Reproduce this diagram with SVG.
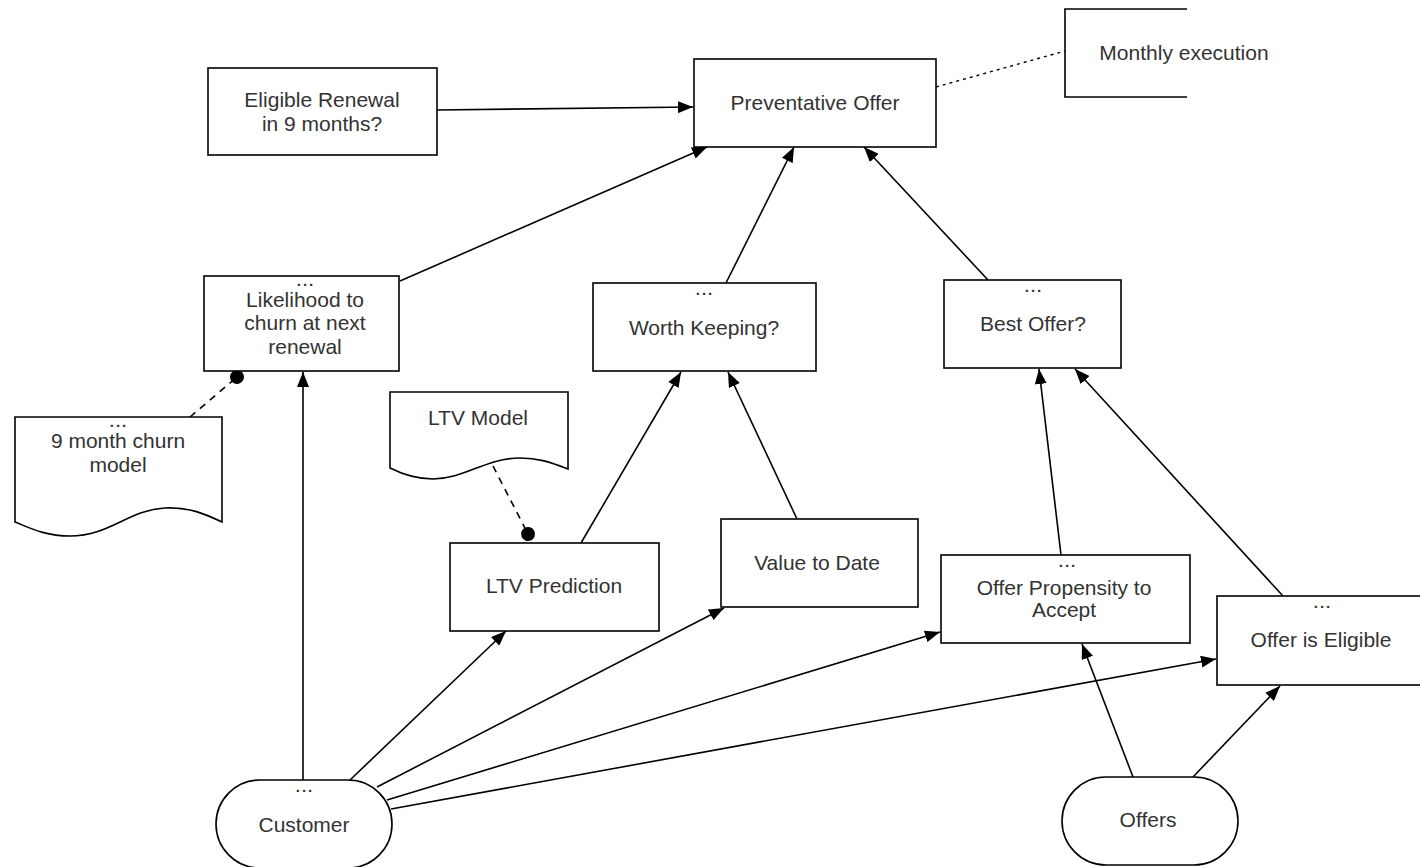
<svg xmlns="http://www.w3.org/2000/svg" width="1420" height="867" viewBox="0 0 1420 867">
<defs>
<marker id="arr" viewBox="0 0 15 12" refX="15" refY="6" markerWidth="15" markerHeight="12" markerUnits="userSpaceOnUse" orient="auto">
<path d="M0,0 L15,6 L0,12 Z" fill="#000"/>
</marker>
<marker id="dot" viewBox="0 0 16 16" refX="8" refY="8" markerWidth="16" markerHeight="16" markerUnits="userSpaceOnUse" orient="auto">
<circle cx="8" cy="8" r="7" fill="#000"/>
</marker>
</defs>
<style>
.n{fill:#fff;stroke:#000;stroke-width:1.6}
.t{font-family:"Liberation Sans",Arial,sans-serif;font-size:21px;fill:#333;text-anchor:middle}
.d{font-family:"Liberation Sans",Arial,sans-serif;font-size:15px;font-weight:bold;fill:#333;text-anchor:middle;letter-spacing:2px}
.e{fill:none;stroke:#000;stroke-width:1.6;marker-end:url(#arr)}
.dash{fill:none;stroke:#000;stroke-width:1.6;stroke-dasharray:7 6;marker-end:url(#dot)}
.dotted{fill:none;stroke:#000;stroke-width:1.4;stroke-dasharray:3 4}
</style>
<rect width="1420" height="867" fill="#fff"/>
<g id="connectors">
<path class="e" d="M437,110 L693,107"/>
<path class="e" d="M400,281 L707,147"/>
<path class="e" d="M726,283 L794,147"/>
<path class="e" d="M988,280 L864,147"/>
<path class="dotted" d="M936,87 L1065,51"/>
<path class="e" d="M581,543 L681,372"/>
<path class="e" d="M797,519 L728,372"/>
<path class="e" d="M1061,555 L1039,369"/>
<path class="e" d="M1283,596 L1075,369"/>
<path class="e" d="M303,780 L303,372"/>
<path class="e" d="M350,780 L506,631"/>
<path class="e" d="M377,787 L724,608"/>
<path class="e" d="M387,800 L940,632"/>
<path class="e" d="M391,809 L1216,659"/>
<path class="e" d="M1133,777 L1082,644"/>
<path class="e" d="M1193,777 L1280,686"/>
<path class="dash" d="M493,466 L528,534"/>
<path class="dash" d="M190,417 L237,377"/>
</g>
<g id="eligible-renewal">
<rect class="n" x="208" y="68" width="229" height="87"/>
<text class="t" x="322" y="107">Eligible Renewal</text>
<text class="t" x="322" y="131">in 9 months?</text>
</g>
<g id="preventative-offer">
<rect class="n" x="694" y="59" width="242" height="88"/>
<text class="t" x="815" y="110">Preventative Offer</text>
</g>
<g id="monthly-execution">
<path d="M1187,9 H1065 V97 H1187" fill="none" stroke="#000" stroke-width="1.6"/>
<text class="t" x="1184" y="60">Monthly execution</text>
</g>
<g id="likelihood">
<rect class="n" x="204" y="276" width="195" height="95"/>
<text class="d" x="306" y="286">...</text>
<text class="t" x="305" y="307">Likelihood to</text>
<text class="t" x="305" y="330">churn at next</text>
<text class="t" x="305" y="354">renewal</text>
</g>
<g id="churn-model">
<path class="n" d="M15,417 H222 V522 C205,514 190,507 165,508 C128,510 110,536 70,536 C45,536 30,528 15,522 Z"/>
<text class="d" x="119" y="427">...</text>
<text class="t" x="118" y="448">9 month churn</text>
<text class="t" x="118" y="472">model</text>
</g>
<g id="worth-keeping">
<rect class="n" x="593" y="283" width="223" height="88"/>
<text class="d" x="705" y="295">...</text>
<text class="t" x="704" y="335">Worth Keeping?</text>
</g>
<g id="ltv-model">
<path class="n" d="M390,392 H568 V469 C550,462 538,458 520,458 C485,458 465,479 433,479 C415,479 402,474 390,468 Z"/>
<text class="t" x="478" y="425">LTV Model</text>
</g>
<g id="ltv-prediction">
<rect class="n" x="450" y="543" width="209" height="88"/>
<text class="t" x="554" y="593">LTV Prediction</text>
</g>
<g id="value-to-date">
<rect class="n" x="721" y="519" width="197" height="88"/>
<text class="t" x="817" y="570">Value to Date</text>
</g>
<g id="best-offer">
<rect class="n" x="944" y="280" width="177" height="88"/>
<text class="d" x="1034" y="292">...</text>
<text class="t" x="1033" y="331">Best Offer?</text>
</g>
<g id="offer-propensity">
<rect class="n" x="941" y="555" width="249" height="88"/>
<text class="d" x="1068" y="567">...</text>
<text class="t" x="1064" y="595">Offer Propensity to</text>
<text class="t" x="1064" y="617">Accept</text>
</g>
<g id="offer-eligible">
<rect class="n" x="1217" y="596" width="208" height="89"/>
<text class="d" x="1323" y="608">...</text>
<text class="t" x="1321" y="647">Offer is Eligible</text>
</g>
<g id="customer">
<rect class="n" x="216" y="780" width="176" height="88" rx="44" ry="44"/>
<text class="d" x="305" y="792">...</text>
<text class="t" x="304" y="832">Customer</text>
</g>
<g id="offers">
<rect class="n" x="1062" y="777" width="176" height="88" rx="44" ry="44"/>
<text class="t" x="1148" y="827">Offers</text>
</g>
</svg>
